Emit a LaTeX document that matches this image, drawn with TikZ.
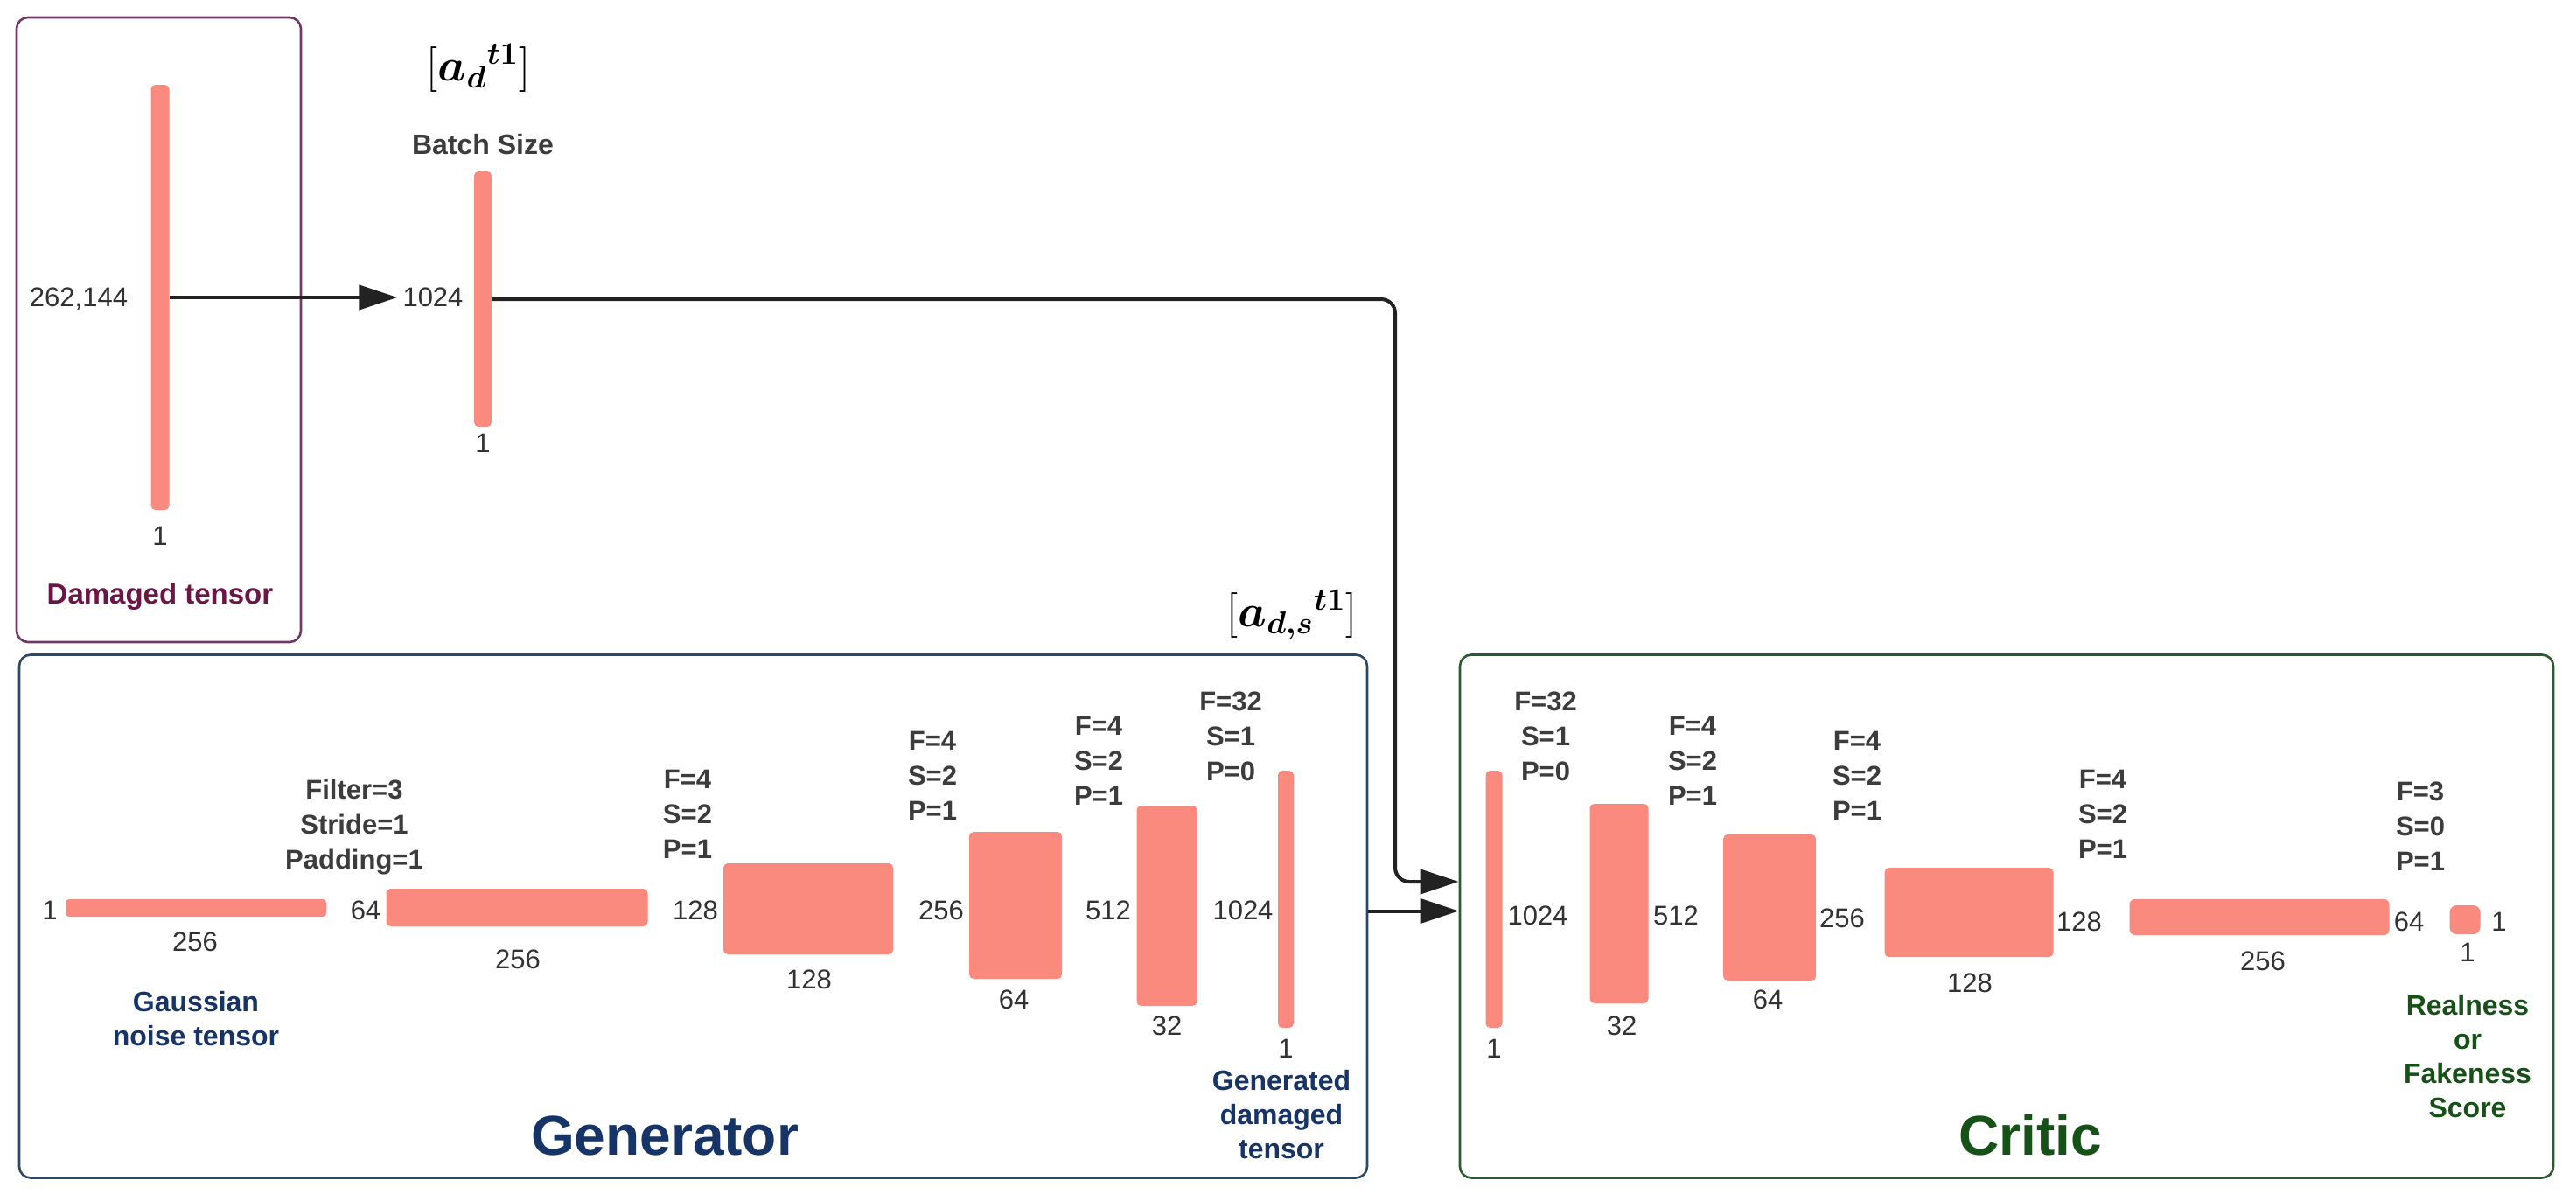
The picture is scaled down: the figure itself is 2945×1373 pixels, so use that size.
\documentclass[tikz,border=0pt]{standalone}
\usepackage{amsmath}
\usepackage{bm}
\usepackage{graphicx}
\usepackage{fontspec}
\setmainfont{Liberation Sans}
\usetikzlibrary{arrows.meta}
\definecolor{salmon}{RGB}{250,138,126}
\definecolor{numgray}{RGB}{50,50,50}
\definecolor{prmgray}{RGB}{60,60,60}
\definecolor{navy}{RGB}{22,52,102}
\definecolor{dgreen}{RGB}{22,82,24}
\definecolor{purp}{RGB}{108,22,72}
\definecolor{purpline}{RGB}{112,56,100}
\definecolor{navyline}{RGB}{44,72,104}
\definecolor{greenline}{RGB}{44,90,44}
\definecolor{arrowc}{RGB}{34,34,34}
\newcommand{\bigmath}[1]{{\fontsize{20}{24}\selectfont\scalebox{2.5}{$#1$}}}
\begin{document}
\begin{tikzpicture}[x=1pt,y=-1pt,
  bar/.style={fill=salmon, rounded corners=5pt, inner sep=0pt, draw=none},
  frame/.style={draw=#1, line width=2.6pt, rounded corners=13pt, inner sep=0pt},
  num/.style={font=\fontsize{31}{37}\selectfont, text=numgray, inner sep=0pt},
  prm/.style={font=\bfseries\fontsize{31}{40}\selectfont, text=prmgray, align=center, inner sep=0pt},
  desc/.style={font=\bfseries\fontsize{32}{39}\selectfont, text=#1, align=center, inner sep=0pt},
  title/.style={font=\bfseries\fontsize{64}{70}\selectfont, text=#1, inner sep=0pt},
  mathlbl/.style={text=black, inner sep=0pt},
  conn/.style={line width=4pt, draw=arrowc, -{Triangle[length=44pt,width=28pt]}}
]
\useasboundingbox (0,0) rectangle (2945,1373);
\fill[white] (0,0) rectangle (2945,1373);

% ---------- frames ----------
\node[frame=purpline, minimum width=325, minimum height=714] (dmgbox) at (181.5,377) {};
\node[frame=navyline, minimum width=1541, minimum height=598] (gen) at (792.5,1047.5) {};
\node[frame=greenline, minimum width=1250, minimum height=598] (crit) at (2294,1047.5) {};

% ---------- damaged tensor ----------
\node[bar, minimum width=21, minimum height=486] (dbar) at (183,340) {};
\node[num] (dlblL) at (90,342) {262,144};
\node[num] (dlblB) at (183,613) {1};
\node[desc=purp, font=\bfseries\fontsize{33}{39}\selectfont] (dname) at (183,682) {Damaged tensor};

% ---------- batch ----------
\node[mathlbl] (adlbl) at (547,78) {\bigmath{[\boldsymbol{{a_d}^{t1}}]}};
\node[desc=prmgray] (bsize) at (552,165) {Batch Size};
\node[bar, minimum width=20, minimum height=292] (bbar) at (552,342) {};
\node[num] (b1024) at (495,340) {1024};
\node[num] (bone) at (552,507) {1};

% ---------- generator ----------
\node[bar, minimum width=298, minimum height=20, rounded corners=4pt] (g1) at (224,1038) {};
\node[num] (g1L) at (57,1041) {1};
\node[num] (g1B) at (223,1077) {256};
\node[desc=navy] (gauss) at (224,1164.5) {Gaussian\\noise tensor};

\node[prm] (g2P) at (405,946) {Filter=3\\Stride=1\\Padding=1};
\node[bar, minimum width=299, minimum height=43] (g2) at (591,1037.5) {};
\node[num] (g2L) at (418,1041) {64};
\node[num] (g2B) at (592,1097) {256};

\node[prm] (g3P) at (786,931) {F=4\\S=2\\P=1};
\node[bar, minimum width=194, minimum height=104] (g3) at (924,1039) {};
\node[num] (g3L) at (795,1041) {128};
\node[num] (g3B) at (925,1120) {128};

\node[prm] (g4P) at (1066,887) {F=4\\S=2\\P=1};
\node[bar, minimum width=106, minimum height=168] (g4) at (1161,1035) {};
\node[num] (g4L) at (1076,1041) {256};
\node[num] (g4B) at (1159,1143) {64};

\node[prm] (g5P) at (1256,870) {F=4\\S=2\\P=1};
\node[bar, minimum width=69, minimum height=229] (g5) at (1334,1035.5) {};
\node[num] (g5L) at (1267,1041) {512};
\node[num] (g5B) at (1334,1173) {32};

\node[prm] (g6P) at (1407,842) {F=32\\S=1\\P=0};
\node[bar, minimum width=18, minimum height=294] (g6) at (1470,1028) {};
\node[num] (g6L) at (1421,1041) {1024};
\node[num] (g6B) at (1470,1199) {1};
\node[desc=navy] (gout) at (1465,1274) {Generated\\damaged\\tensor};

\node[title=navy] (gtitle) at (760,1298) {Generator};
\node[mathlbl] (adslbl) at (1477,703) {\bigmath{[\boldsymbol{{a_{d,s}}^{t1}}]}};

% ---------- critic ----------
\node[prm] (c1P) at (1767,842) {F=32\\S=1\\P=0};
\node[bar, minimum width=19, minimum height=294] (c1) at (1708,1028) {};
\node[num] (c1R) at (1758,1047) {1024};
\node[num] (c1B) at (1708,1199) {1};

\node[prm] (c2P) at (1935,870) {F=4\\S=2\\P=1};
\node[bar, minimum width=67, minimum height=228] (c2) at (1851,1033) {};
\node[num] (c2R) at (1916,1047) {512};
\node[num] (c2B) at (1854,1173) {32};

\node[prm] (c3P) at (2123,887) {F=4\\S=2\\P=1};
\node[bar, minimum width=106, minimum height=167] (c3) at (2023,1037.5) {};
\node[num] (c3R) at (2106,1050) {256};
\node[num] (c3B) at (2021,1143) {64};

\node[prm] (c4P) at (2404,931) {F=4\\S=2\\P=1};
\node[bar, minimum width=193, minimum height=102] (c4) at (2251,1043) {};
\node[num] (c4R) at (2377,1054) {128};
\node[num] (c4B) at (2252,1124) {128};

\node[prm] (c5P) at (2767,945) {F=3\\S=0\\P=1};
\node[bar, minimum width=297, minimum height=41, rounded corners=6pt] (c5) at (2583,1048.5) {};
\node[num] (c5R) at (2754,1054) {64};
\node[num] (c5B) at (2587,1099) {256};

\node[bar, minimum width=35, minimum height=33, rounded corners=8pt] (c6) at (2818,1051.5) {};
\node[num] (c6R) at (2857,1054) {1};
\node[num] (c6B) at (2821,1089) {1};
\node[desc=dgreen] (score) at (2821,1207.5) {Realness\\or\\Fakeness\\Score};

\node[title=dgreen] (ctitle) at (2321,1298) {Critic};

% ---------- connectors ----------
\coordinate (turn) at (1595,1008);
\draw[conn, shorten >=6pt] (dbar.east) -- (b1024.west);
\draw[conn, rounded corners=16pt] (bbar.east) -| (turn) -- (crit.west |- turn);
\draw[conn] ([yshift=6pt]gen.east) -- ([yshift=6pt]crit.west);
\end{tikzpicture}
\end{document}
